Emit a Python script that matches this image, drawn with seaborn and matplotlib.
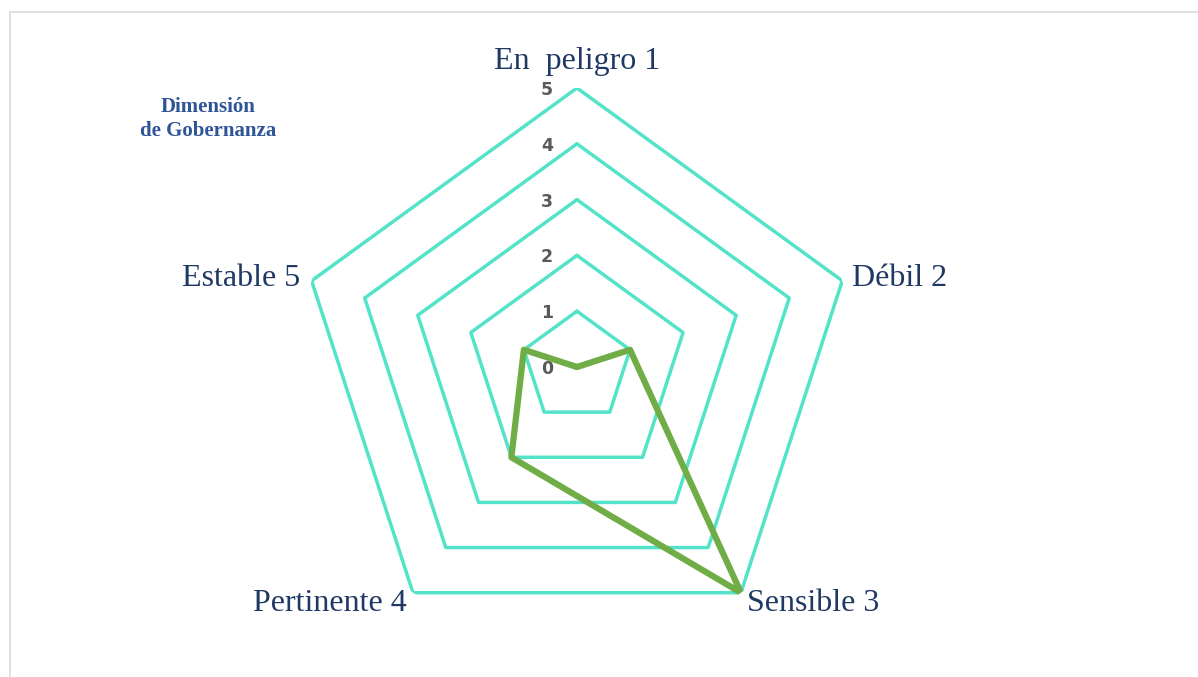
import numpy as np
import matplotlib
matplotlib.use("Agg")
import matplotlib.pyplot as plt
import matplotlib.patches as mpatches
import seaborn as sns

# data
categories = ["En  peligro 1", "Débil 2", "Sensible 3", "Pertinente 4", "Estable 5"]
values = [0, 1, 5, 2, 1]
levels = [1, 2, 3, 4, 5]
tick_labels = ["0", "1", "2", "3", "4", "5"]

sns.set_style("white")
plt.rcParams['font.family'] = ['Liberation Serif', 'DejaVu Serif']

ring_color = "#52E3C8"
line_color = "#70AD47"
label_color = "#1F3864"

fig = plt.figure(figsize=(11.98, 6.77), dpi=100)
ax = fig.add_axes([0.2487, 0.0458, 0.4658, 0.8242], projection="polar")
ax.set_theta_offset(np.pi / 2)
ax.set_theta_direction(-1)

n = len(categories)
angles = np.linspace(0, 2 * np.pi, n, endpoint=False)
closed = np.append(angles, angles[0])

# pentagon rings
for lv in levels:
    sns.lineplot(x=closed, y=[lv] * (n + 1), ax=ax, color=ring_color,
                 linewidth=2.5, sort=False, estimator=None)

# data polygon
vals = values + values[:1]
sns.lineplot(x=closed, y=vals, ax=ax, color=line_color, linewidth=4.5,
             sort=False, estimator=None)

ax.set_ylim(0, 5)
ax.grid(False)
ax.spines["polar"].set_visible(False)
ax.set_xticks([])
ax.set_yticks([])
ax.set_xlabel("")
ax.set_ylabel("")
ax.patch.set_alpha(0)

# radial tick labels
for i, t in enumerate(tick_labels):
    ax.annotate(t, xy=(0, i), xytext=(-30, -2), textcoords="offset pixels",
                ha="center", va="center", fontsize=12.5, fontweight="bold",
                color="#595959", family=["DejaVu Sans"])

# category labels
offsets = [(0, 27, "center", "center"), (10, 2, "left", "center"),
           (6, -11, "left", "center"), (-6, -11, "right", "center"),
           (-11, 2, "right", "center")]
for ang, lab, (dx, dy, ha, va) in zip(angles, categories, offsets):
    ax.annotate(lab, xy=(ang, 5), xytext=(dx, dy), textcoords="offset pixels",
                ha=ha, va=va, fontsize=23, color=label_color)

fig.text(208 / 1198, 1 - 119 / 677, "Dimensión\nde Gobernanza", ha="center",
         va="center", fontsize=15, fontweight="bold", color="#2F5597",
         linespacing=1.2)

fig.patches.append(mpatches.Rectangle((10 / 1198, -0.1), 1.2, 1 - 12 / 677 + 0.1,
                                      transform=fig.transFigure, fill=False,
                                      edgecolor="#D9D9D9", linewidth=1.2))

fig.savefig("out.png", dpi=100)
